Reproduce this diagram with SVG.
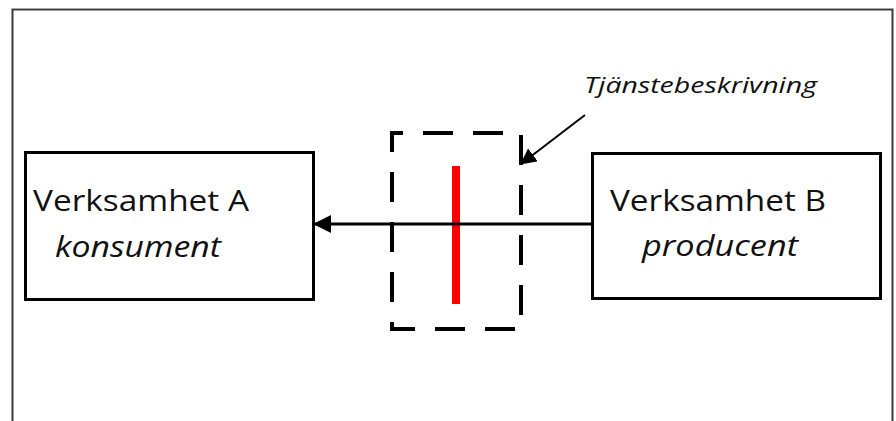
<svg xmlns="http://www.w3.org/2000/svg" width="896" height="421" viewBox="0 0 896 421">
<defs>
<style>
.box{fill:#fff;stroke:#000;stroke-width:3}
.lbl{font-family:"Open Sans","Noto Sans",sans-serif;font-size:30px;font-weight:500;fill:#111}
.it{font-style:italic}
.conn{stroke:#000;fill:none}
</style>
<marker id="ah" markerWidth="18" markerHeight="18" viewBox="0 0 18 18" refX="17" refY="9" orient="auto" markerUnits="userSpaceOnUse">
<path d="M0,0 L18,9 L0,18 Z" fill="#000"/>
</marker>
<marker id="ah2" markerWidth="16" markerHeight="16" viewBox="0 0 16 16" refX="15" refY="8" orient="auto" markerUnits="userSpaceOnUse">
<path d="M0,0 L16,8 L0,16 Z" fill="#000"/>
</marker>
</defs>
<rect width="896" height="421" fill="#fff"/>
<path d="M12.5,430 V9.5 H892.5 V430" fill="none" stroke="#3a3a3a" stroke-width="2"/>
<path d="M11.5,8.5 H893.5" fill="none" stroke="#aaa" stroke-width="1"/>
<g id="nodeA">
<rect class="box" x="25.5" y="152.5" width="288" height="147"/>
<text class="lbl" x="33" y="211" textLength="216" lengthAdjust="spacingAndGlyphs">Verksamhet A</text>
<text class="lbl it" x="55" y="257" textLength="166" lengthAdjust="spacingAndGlyphs">konsument</text>
</g>
<g id="nodeB">
<rect class="box" x="592.5" y="153.5" width="288" height="145"/>
<text class="lbl" x="610" y="211" textLength="216" lengthAdjust="spacingAndGlyphs">Verksamhet B</text>
<text class="lbl it" x="642" y="256" textLength="156" lengthAdjust="spacingAndGlyphs">producent</text>
</g>
<g id="tjanstebeskrivning">
<rect x="392" y="133" width="129" height="196" fill="none" stroke="#000" stroke-width="4" stroke-dasharray="30 20" stroke-dashoffset="19"/>
<line x1="456" y1="166" x2="456" y2="304" stroke="#ff0000" stroke-width="8"/>
<text class="lbl it" x="584" y="93" style="font-size:22px" textLength="233" lengthAdjust="spacingAndGlyphs">Tjänstebeskrivning</text>
</g>
<g id="connectors">
<line class="conn" x1="592" y1="224" x2="314" y2="224" stroke-width="3" marker-end="url(#ah)"/>
<line class="conn" x1="585" y1="115" x2="521" y2="164" stroke-width="2" marker-end="url(#ah2)"/>
</g>
</svg>
